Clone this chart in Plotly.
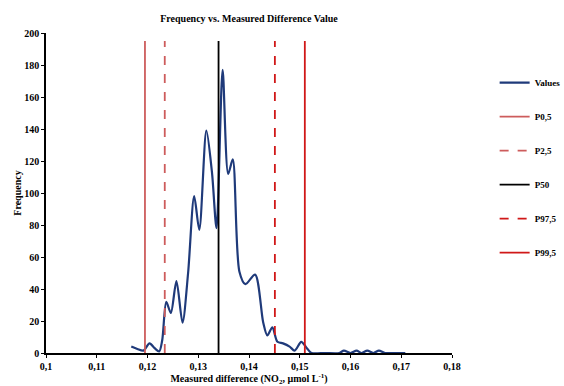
import plotly.graph_objects as go

# Smoothed frequency curve (Values)
x_vals = [0.1168, 0.1180, 0.1192, 0.1204, 0.1214, 0.1223, 0.1229, 0.1237, 0.1246, 0.1257,
          0.1269, 0.1280, 0.1292, 0.1302, 0.1316, 0.1327, 0.1336, 0.1348, 0.1359, 0.1368,
          0.1381, 0.1393, 0.1412, 0.1428, 0.1436, 0.1446, 0.1456, 0.1467, 0.1480, 0.1490,
          0.1503, 0.1514, 0.1523, 0.1550, 0.1578, 0.1587, 0.1600, 0.1612, 0.1622, 0.1633,
          0.1645, 0.1656, 0.1668, 0.1690, 0.1708]
y_vals = [4, 2.5, 1.5, 6, 3, 1, 8, 32, 25, 45,
          19, 50, 98, 77, 139, 113, 78, 177, 112, 121,
          51, 43, 49, 19, 11, 16, 7, 6, 4, 1.5,
          7, 3, 0, 0, 0, 1.5, 0, 1.5, 0, 1.5,
          0, 1.5, 0, 0, 0]

# Percentile lines
p_names = ["P0,5", "P2,5", "P50", "P97,5", "P99,5"]
p_values = [0.1195, 0.1234, 0.1340, 0.1451, 0.1510]
p_colors = ["#CD5C5C", "#CD5C5C", "#000000", "#D01818", "#D01818"]
p_dashes = ["solid", "dash", "solid", "dash", "solid"]
p_top = 195

x_ticks = [0.1, 0.11, 0.12, 0.13, 0.14, 0.15, 0.16, 0.17, 0.18]
y_ticks = [0, 20, 40, 60, 80, 100, 120, 140, 160, 180, 200]

FONT = "Times New Roman, Liberation Serif, serif"

fig = go.Figure()
fig.add_trace(go.Scatter(x=x_vals, y=y_vals, mode="lines", name="Values",
                         line=dict(color="#1F3A7A", width=2.2, shape="spline", smoothing=0.8),
                         legendgroup="v"))
for n, v, c, d in zip(p_names, p_values, p_colors, p_dashes):
    fig.add_trace(go.Scatter(x=[v, v], y=[0, p_top], mode="lines", name=n,
                             line=dict(color=c, width=1.8, dash=d), legendgroup=n))

fig.update_layout(
    width=564, height=386,
    margin=dict(l=46, r=112, t=33, b=33, autoexpand=False),
    paper_bgcolor="white", plot_bgcolor="white",
    separators=", ",
    font=dict(family=FONT, size=10, color="#000000", weight="bold"),
    title=dict(text="<b>Frequency vs. Measured Difference Value</b>", x=0.5, xref="paper",
               xanchor="center", y=1 - 18 / 386, yref="container", yanchor="middle",
               font=dict(family=FONT, size=10)),
    showlegend=True,
    legend=dict(x=1.105, xanchor="left", y=0.89, yanchor="top",
                font=dict(family=FONT, size=9, weight="bold"),
                tracegroupgap=15, bgcolor="rgba(0,0,0,0)"),
    xaxis=dict(range=[0.1, 0.18], tickvals=x_ticks, showgrid=False, zeroline=False,
               showline=True, linecolor="black", linewidth=1.5, automargin=False,
               ticks="outside", ticklen=3, tickcolor="black",
               tickfont=dict(family=FONT, size=10, weight="bold"),
               title=dict(text="<b>Measured difference (NO<sub>2</sub>, µmol L<sup>-1</sup>)</b>",
                          standoff=2, font=dict(family=FONT, size=10))),
    yaxis=dict(range=[0, 200], tickvals=y_ticks, showgrid=False, zeroline=False,
               showline=True, linecolor="black", linewidth=1.5, automargin=False,
               ticks="outside", ticklen=3, tickcolor="black",
               tickfont=dict(family=FONT, size=10, weight="bold"),
               title=dict(text="<b>Frequency</b>", standoff=1, font=dict(family=FONT, size=10))),
)

fig.write_html("out.html", config={"displayModeBar": False},
               post_script="document.body.style.margin='0px';")
